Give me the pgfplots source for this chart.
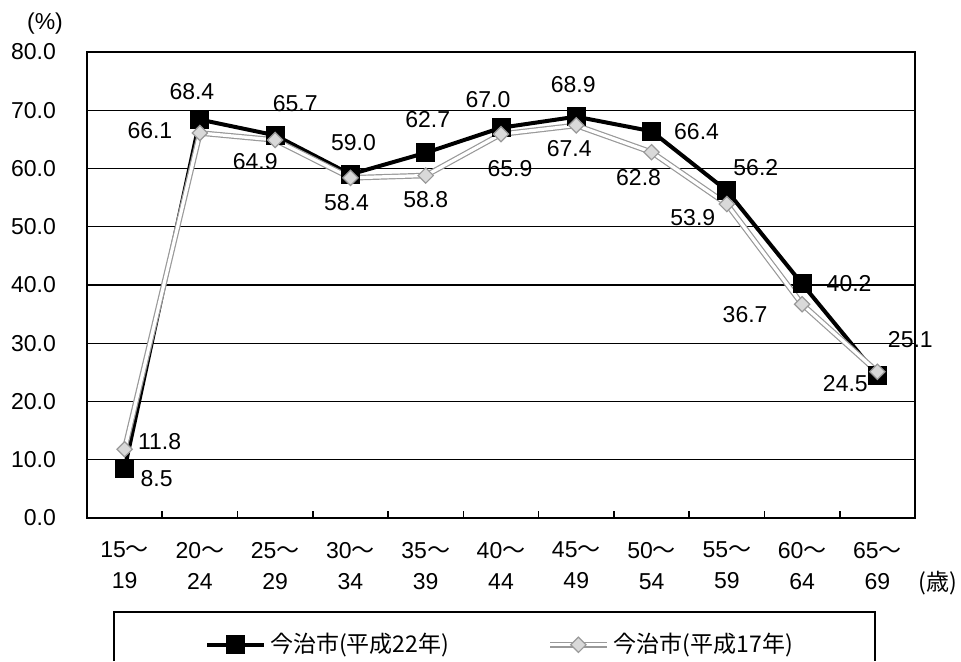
\documentclass[border=0pt]{standalone}
\usepackage{pgfplots}
\usepackage{pgfplotstable}
\pgfplotsset{compat=1.18}
\usepackage{fontspec}
\setmainfont{Liberation Sans}
\newfontfamily\jp{Noto Sans CJK JP}
\newcommand\til{{\jp ～}}

\pgfplotstableread{
x y lab dx dy
0 8.5 8.5 16 -5
1 68.4 68.4 -4 14
2 65.7 65.7 10 16
3 59.0 59.0 1.5 16
4 62.7 62.7 1 16.5
5 67.0 67.0 -6.5 14
6 68.9 68.9 -1.5 16
7 66.4 66.4 22.5 0
8 56.2 56.2 14.5 11.5
9 40.2 40.2 23.5 0
10 24.5 24.5 -16 -4
}\hA

\pgfplotstableread{
x y lab dx dy
0 11.8 11.8 17.5 4
1 66.1 66.1 -25 1
2 64.9 64.9 -10 -11
3 58.4 58.4 -2 -12.5
4 58.8 58.8 0 -12
5 65.9 65.9 4.5 -17
6 67.4 67.4 -3.5 -11.5
7 62.8 62.8 -6.5 -12.5
8 53.9 53.9 -17 -7
9 36.7 36.7 -28.5 -5
10 25.1 25.1 16.5 16
}\hB

\begin{document}
\begin{tikzpicture}
\useasboundingbox (-43.5pt,-71.5pt) rectangle (437pt,259pt);
\begin{axis}[
  scale only axis, width=414pt, height=233pt,
  clip=false,
  xmin=-0.5, xmax=10.5, ymin=0, ymax=80,
  xtick={0,...,10},
  xticklabels={{15\til\\19},{20\til\\24},{25\til\\29},{30\til\\34},{35\til\\39},{40\til\\44},{45\til\\49},{50\til\\54},{55\til\\59},{60\til\\64},{65\til\\69}},
  minor xtick={0.5,1.5,...,9.5},
  ytick={0,10,...,80},
  xtick pos=bottom, ytick pos=left,
  ymajorgrids, grid style={black, line width=0.6pt},
  axis line style={black, line width=0.8pt},
  major tick length=0pt, minor tick length=3.5pt, tick align=inside,
  tick style={black, line width=0.8pt},
  /pgf/number format/.cd, fixed, fixed zerofill, precision=1, assume math mode=true, /pgfplots/.cd,
  ticklabel style={font=\fontsize{11.5}{15.5}\selectfont},
  yticklabel style={xshift=-12pt},
  xticklabel style={align=center, yshift=-8.5pt},
  legend columns=2,
  legend style={at={(rel axis cs:0.5,-0.272)}, anchor=center, draw=none, fill=none,
    font=\jp\fontsize{11.5}{13}\selectfont,
    /tikz/every even column/.append style={column sep=47pt}},
  legend image code/.code={\draw[mark repeat=2,mark phase=2,#1] plot coordinates {(0cm,0cm) (0.5cm,0cm) (1.0cm,0cm)};},
  nodes near coords,
  point meta=explicit symbolic,
  visualization depends on={\thisrow{dx}\as\dx},
  visualization depends on={\thisrow{dy}\as\dy},
  every node near coord/.append style={anchor=center, xshift=\dx pt, yshift=\dy pt, font=\fontsize{11.5}{13}\selectfont, black},
]
\addplot[black, line width=2pt, mark=square*, mark size=4.5pt, mark options={solid, fill=black, line width=0.5pt}]
  table[x=x, y=y, meta=lab] {\hA};
\addlegendentry{今治市(平成22年)}
\addplot[draw=gray!80, double=white, double distance=1.6pt, line width=0.6pt, mark=square*, mark size=2.7pt,
  mark options={solid, rotate=45, fill=gray!30, draw=gray!80, line width=0.6pt}]
  table[x=x, y=y, meta=lab] {\hB};
\addlegendentry{今治市(平成17年)}
\node[font=\fontsize{11.5}{13}\selectfont] at (rel axis cs:-0.0507,1.062) {(\%)};
\node[font=\jp\fontsize{11.5}{13}\selectfont] at (rel axis cs:1.028,-0.1395) {(歳)};
\draw[black, line width=0.8pt] (rel axis cs:0.0326,-0.307) -- (rel axis cs:0.0326,-0.2017) -- (rel axis cs:0.9517,-0.2017) -- (rel axis cs:0.9517,-0.307);
\end{axis}
\end{tikzpicture}
\end{document}
